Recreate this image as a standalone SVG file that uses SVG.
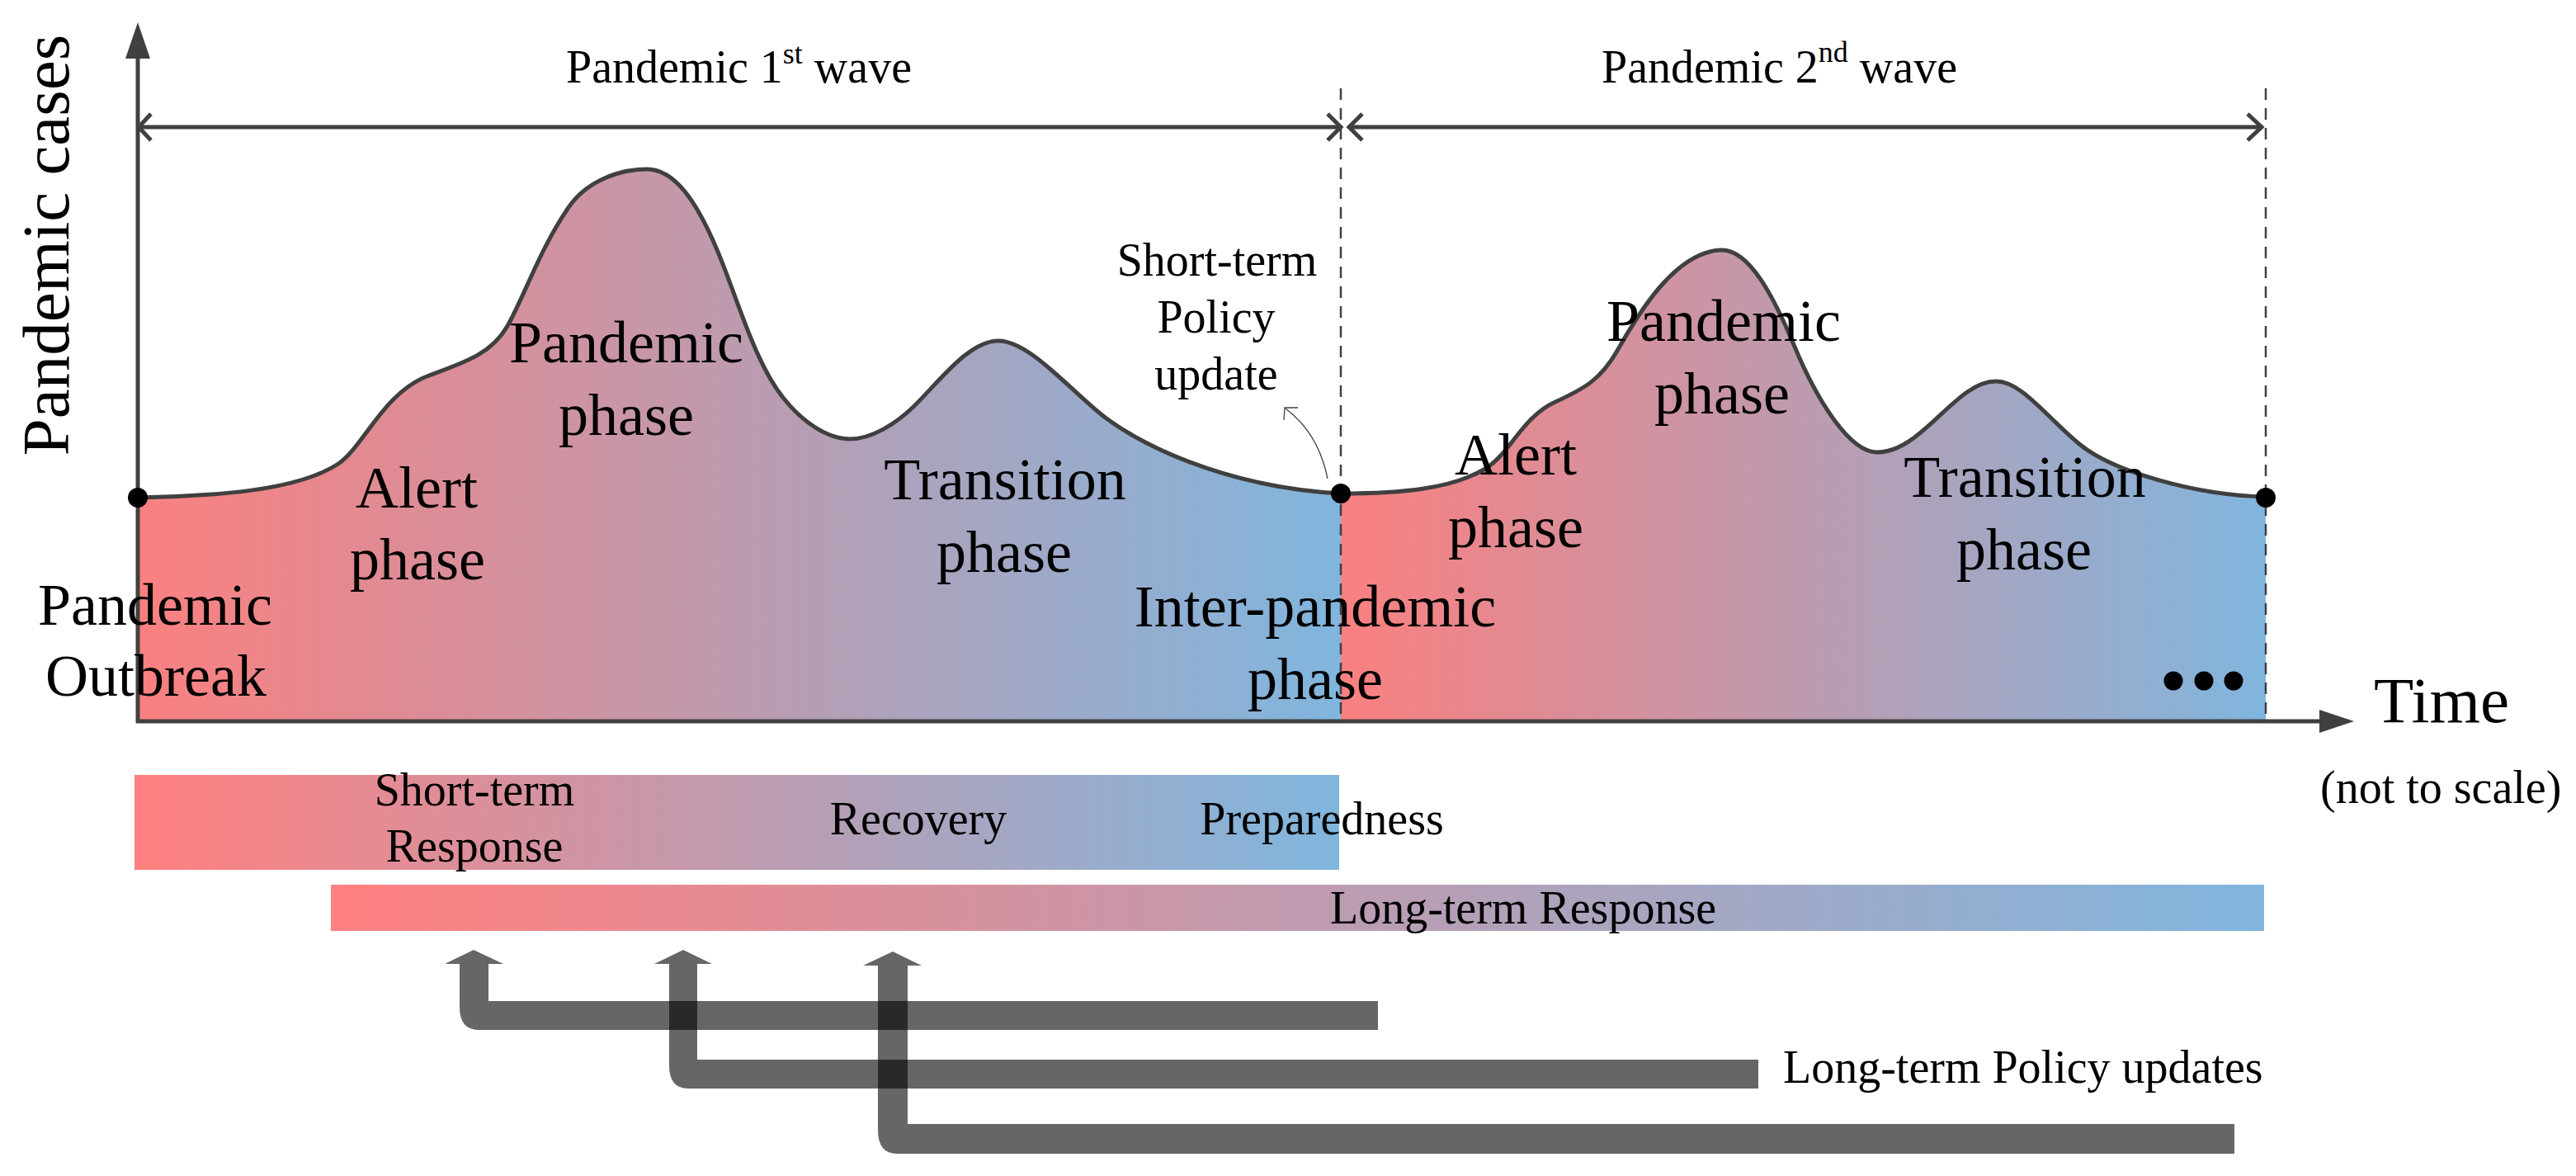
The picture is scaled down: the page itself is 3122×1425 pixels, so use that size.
<svg xmlns="http://www.w3.org/2000/svg" width="3122" height="1425" viewBox="0 0 3122 1425">
<style>
text{font-family:"Liberation Serif","Times New Roman",serif;fill:#000}
.big{font-size:72px;text-anchor:middle}
.sm{font-size:56px}
.c{text-anchor:middle}
.ax{stroke:#404040;stroke-width:5;fill:none}
.dash{stroke:#404040;stroke-width:2.5;stroke-dasharray:14 10;fill:none}
.curve{stroke:#404040;stroke-width:5;fill:none;stroke-linejoin:round}
.pol{fill:#000;fill-opacity:0.6}
</style>
<defs>
<linearGradient id="g1" gradientUnits="userSpaceOnUse" x1="167" y1="0" x2="1625" y2="0"><stop offset="0" stop-color="#FA8080"/><stop offset="1" stop-color="#80B6DE"/></linearGradient>
<linearGradient id="g2" gradientUnits="userSpaceOnUse" x1="1625" y1="0" x2="2746" y2="0"><stop offset="0" stop-color="#FA8080"/><stop offset="1" stop-color="#80B6DE"/></linearGradient>
<linearGradient id="g3" gradientUnits="userSpaceOnUse" x1="163" y1="0" x2="1623" y2="0"><stop offset="0" stop-color="#FF8080"/><stop offset="1" stop-color="#80B6DE"/></linearGradient>
<linearGradient id="g4" gradientUnits="userSpaceOnUse" x1="401" y1="0" x2="2744" y2="0"><stop offset="0" stop-color="#FF8080"/><stop offset="1" stop-color="#80B6DE"/></linearGradient>
</defs>

<g id="wave1-area">
<path fill="url(#g1)" d="M167,603 C260,601 360,595 410,562 C440,542 465,475 520,455 C560,440 595,430 615,395 C635,360 655,300 690,250 C711,220 750,205 784,205 C818,205 845,245 870,305 C895,365 915,440 950,483 C975,514 1005,532 1030,532 C1055,532 1085,515 1110,490 C1140,460 1175,413 1210,413 C1245,413 1290,465 1332,500 C1374,535 1480,590 1625,598 L1625,874 L167,874 Z"/>
</g>
<g id="wave2-area">
<path fill="url(#g2)" d="M1625,598 C1700,598 1760,592 1800,568 C1830,550 1845,505 1885,487 C1920,471 1940,460 1960,425 C1985,381 2030,305 2086,303 C2120,302 2150,360 2175,420 C2200,480 2240,548 2275,548 C2330,548 2370,462 2419,462 C2450,462 2480,505 2520,538 C2560,571 2660,600 2746,602 L2746,874 L1625,874 Z"/>
</g>

<g id="dividers">
<line class="dash" x1="1625" y1="107" x2="1625" y2="874"/>
<line class="dash" x1="2746" y1="107" x2="2746" y2="874"/>
</g>

<g id="axes">
<line class="ax" x1="167" y1="68" x2="167" y2="876"/>
<polygon fill="#404040" points="167,27 182,71 152,71"/>
<line class="ax" x1="165" y1="874" x2="2815" y2="874"/>
<polygon fill="#404040" points="2853,874 2811,860 2811,888"/>
<text x="2877" y="875" style="font-size:79px">Time</text>
<text x="2812" y="973" class="sm">(not to scale)</text>
<text transform="translate(83,297) rotate(-90)" class="c" style="font-size:81px">Pandemic cases</text>
</g>

<g id="wave-spans">
<line class="ax" x1="169" y1="154" x2="1624" y2="154"/>
<polyline class="ax" points="183,138 168,154 183,170"/>
<polyline class="ax" points="1609,138 1625,154 1609,170"/>
<line class="ax" x1="1636" y1="154" x2="2740" y2="154"/>
<polyline class="ax" points="1651,138 1635,154 1651,170"/>
<polyline class="ax" points="2724,138 2741,154 2724,170"/>
<text x="686" y="100" class="sm">Pandemic 1<tspan style="font-size:36px" dy="-23">st</tspan><tspan dy="23"> wave</tspan></text>
<text x="1941" y="100" class="sm">Pandemic 2<tspan style="font-size:36px" dy="-25">nd</tspan><tspan dy="25"> wave</tspan></text>
</g>

<g id="curves">
<path class="curve" d="M167,603 C260,601 360,595 410,562 C440,542 465,475 520,455 C560,440 595,430 615,395 C635,360 655,300 690,250 C711,220 750,205 784,205 C818,205 845,245 870,305 C895,365 915,440 950,483 C975,514 1005,532 1030,532 C1055,532 1085,515 1110,490 C1140,460 1175,413 1210,413 C1245,413 1290,465 1332,500 C1374,535 1480,590 1625,598"/>
<path class="curve" d="M1625,598 C1700,598 1760,592 1800,568 C1830,550 1845,505 1885,487 C1920,471 1940,460 1960,425 C1985,381 2030,305 2086,303 C2120,302 2150,360 2175,420 C2200,480 2240,548 2275,548 C2330,548 2370,462 2419,462 C2450,462 2480,505 2520,538 C2560,571 2660,600 2746,602"/>
<circle cx="167" cy="603" r="12" fill="#000"/>
<circle cx="1625" cy="598" r="12" fill="#000"/>
<circle cx="2746" cy="603" r="12" fill="#000"/>
<circle cx="2634" cy="825" r="11.5" fill="#000"/>
<circle cx="2671" cy="825" r="11.5" fill="#000"/>
<circle cx="2707" cy="825" r="11.5" fill="#000"/>
</g>

<g id="phase-labels">
<text class="big" x="188" y="757">Pandemic</text>
<text class="big" x="189" y="843">Outbreak</text>
<text class="big" x="505" y="615">Alert</text>
<text class="big" x="506" y="702">phase</text>
<text class="big" x="759" y="439">Pandemic</text>
<text class="big" x="759" y="527">phase</text>
<text class="big" x="1218" y="605">Transition</text>
<text class="big" x="1217" y="693">phase</text>
<text class="big" x="1594" y="759">Inter-pandemic</text>
<text class="big" x="1594" y="847">phase</text>
<text class="big" x="1837" y="575">Alert</text>
<text class="big" x="1837" y="663">phase</text>
<text class="big" x="2089" y="413">Pandemic</text>
<text class="big" x="2087" y="501">phase</text>
<text class="big" x="2454" y="602">Transition</text>
<text class="big" x="2453" y="690">phase</text>
</g>

<g id="short-term-policy">
<text class="sm c" x="1475" y="334">Short-term</text>
<text class="sm c" x="1474" y="403">Policy</text>
<text class="sm c" x="1474" y="472">update</text>
</g>

<g id="response-bar">
<rect x="163" y="939" width="1460" height="115" fill="url(#g3)"/>
<text class="sm c" x="575" y="976">Short-term</text>
<text class="sm c" x="575" y="1044">Response</text>
<text class="sm c" x="1113" y="1011">Recovery</text>
<text class="sm c" x="1602" y="1011">Preparedness</text>
</g>

<g id="long-term-bar">
<rect x="401" y="1072" width="2343" height="56" fill="url(#g4)"/>
<text class="sm c" x="1846" y="1119">Long-term Response</text>
</g>

<g id="long-term-policy">
<text class="sm" x="2161" y="1312">Long-term Policy updates</text>
</g>

<g id="connectors">
<path d="M1609,580 Q1598,525 1558,495" fill="none" stroke="#404040" stroke-width="1.3"/>
<polyline points="1573,494 1557,494 1556,509" fill="none" stroke="#404040" stroke-width="1.3"/>
<path class="pol" d="M574,1151 L610,1168 L592,1168 L592,1213 L1670,1213 L1670,1248 L580,1248 Q557,1248 557,1220 L557,1168 L539,1168 Z"/>
<path class="pol" d="M828,1151 L863,1168 L845,1168 L845,1284 L2131,1284 L2131,1319 L834,1319 Q811,1319 811,1291 L811,1168 L793,1168 Z"/>
<path class="pol" d="M1082,1153 L1117,1170 L1100,1170 L1100,1362 L2708,1362 L2708,1398 L1087,1398 Q1064,1398 1064,1369 L1064,1170 L1046,1170 Z"/>
</g>
</svg>
